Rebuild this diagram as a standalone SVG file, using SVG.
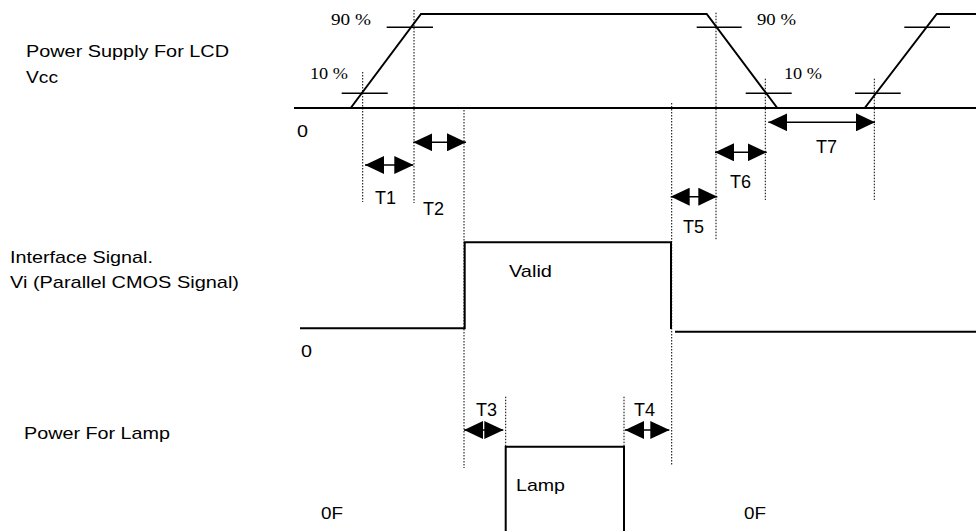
<svg xmlns="http://www.w3.org/2000/svg" width="976" height="531" viewBox="0 0 976 531">
<style>
.sig{fill:none;stroke:#000;stroke-width:2}
.tick{fill:none;stroke:#000;stroke-width:1.6}
.dot{fill:none;stroke:#000;stroke-width:1;stroke-dasharray:1.5 1.5}
.arr{fill:none;stroke:#000;stroke-width:1.4;marker-start:url(#ah);marker-end:url(#ah)}
.lab{font-family:"Liberation Sans",Arial,sans-serif;font-size:17px;fill:#000}
.tl{font-family:"Liberation Sans",Arial,sans-serif;font-size:18px;fill:#000}
.pct{font-family:"Liberation Serif","Times New Roman",serif;font-size:17px;fill:#000}
</style>
<defs>
<marker id="ah" markerUnits="userSpaceOnUse" markerWidth="19" markerHeight="18" viewBox="0 0 19 18" refX="19" refY="9" orient="auto-start-reverse">
<path d="M0,0 L19,9 L0,18 z" fill="#000"/>
</marker>
<clipPath id="clipVi"><rect x="0" y="266" width="300" height="25"/></clipPath>
</defs>
<rect width="976" height="531" fill="#fff"/>

<g id="labels">
<text class="lab" x="26" y="57" textLength="203" lengthAdjust="spacingAndGlyphs">Power Supply For LCD</text>
<text class="lab" x="26" y="83" textLength="32" lengthAdjust="spacingAndGlyphs">Vcc</text>
<text class="lab" x="10" y="263" textLength="143" lengthAdjust="spacingAndGlyphs">Interface Signal.</text>
<text class="lab" x="10" y="288" textLength="229" lengthAdjust="spacingAndGlyphs" clip-path="url(#clipVi)">Vi (Parallel CMOS Signal)</text>
<text class="lab" x="24" y="439" textLength="146" lengthAdjust="spacingAndGlyphs">Power For Lamp</text>
<text class="lab" x="297" y="137" textLength="11" lengthAdjust="spacingAndGlyphs">0</text>
<text class="lab" x="301" y="357" textLength="11" lengthAdjust="spacingAndGlyphs">0</text>
<text class="lab" x="321" y="519" textLength="22" lengthAdjust="spacingAndGlyphs">0F</text>
<text class="lab" x="744" y="519" textLength="22" lengthAdjust="spacingAndGlyphs">0F</text>
<text class="lab" x="509" y="277" textLength="43" lengthAdjust="spacingAndGlyphs">Valid</text>
<text class="lab" x="516" y="491" textLength="49" lengthAdjust="spacingAndGlyphs">Lamp</text>
<text class="pct" x="331" y="25" textLength="40" lengthAdjust="spacingAndGlyphs">90 %</text>
<text class="pct" x="310" y="79" textLength="38" lengthAdjust="spacingAndGlyphs">10 %</text>
<text class="pct" x="757" y="25" textLength="39" lengthAdjust="spacingAndGlyphs">90 %</text>
<text class="pct" x="784" y="79" textLength="38" lengthAdjust="spacingAndGlyphs">10 %</text>
</g>

<g id="vcc-signal">
<line class="sig" x1="294" y1="108" x2="976" y2="108"/>
<polyline class="sig" points="350.7,108 421,14 706.7,14 777.3,108"/>
<polyline class="sig" points="864.7,108 936.7,14 976,14"/>
<line class="tick" x1="386.7" y1="27.3" x2="433" y2="27.3"/>
<line class="tick" x1="341.7" y1="93.3" x2="387.7" y2="93.3"/>
<line class="tick" x1="696.7" y1="27.3" x2="741.7" y2="27.3"/>
<line class="tick" x1="745.7" y1="93.3" x2="791.7" y2="93.3"/>
<line class="tick" x1="904.3" y1="27.3" x2="950" y2="27.3"/>
<line class="tick" x1="855" y1="93.3" x2="900.7" y2="93.3"/>
</g>

<g id="interface-signal">
<polyline class="sig" points="300,328.3 464.7,328.3 464.7,242.3 671,242.3 671,329"/>
<line class="sig" x1="675" y1="331.7" x2="976" y2="331.7"/>
</g>

<g id="lamp-signal">
<polyline class="sig" points="505.7,531 505.7,446.7 624,446.7 624,531"/>
</g>

<g id="guides">
<line class="dot" x1="362.7" y1="72" x2="362.7" y2="202"/>
<line class="dot" x1="414" y1="10" x2="414" y2="203"/>
<line class="dot" x1="464" y1="107" x2="464" y2="468"/>
<line class="dot" x1="671.7" y1="103" x2="671.7" y2="465"/>
<line class="dot" x1="716" y1="12.7" x2="716" y2="240"/>
<line class="dot" x1="765.3" y1="78.7" x2="765.3" y2="200"/>
<line class="dot" x1="874.3" y1="78.7" x2="874.3" y2="200"/>
<line class="dot" x1="505.7" y1="396.7" x2="505.7" y2="446"/>
<line class="dot" x1="624" y1="396.7" x2="624" y2="446"/>
</g>

<g id="timing-arrows">
<line class="arr" x1="365" y1="165" x2="413.3" y2="165"/>
<line class="arr" x1="413.3" y1="142.3" x2="466" y2="142.3"/>
<line class="arr" x1="464" y1="430" x2="503.3" y2="430"/>
<line class="arr" x1="625" y1="430" x2="669.3" y2="430"/>
<line class="arr" x1="670.7" y1="196.7" x2="717.3" y2="196.7"/>
<line class="arr" x1="715" y1="152.3" x2="766.7" y2="152.3"/>
<line class="arr" x1="768.3" y1="122.3" x2="875" y2="122.3"/>
</g>

<g id="timing-labels">
<text class="tl" x="375" y="204">T1</text>
<text class="tl" x="423" y="215">T2</text>
<text class="tl" x="476" y="416">T3</text>
<text class="tl" x="634" y="416">T4</text>
<text class="tl" x="683" y="233">T5</text>
<text class="tl" x="730" y="188">T6</text>
<text class="tl" x="816" y="153">T7</text>
</g>
</svg>
